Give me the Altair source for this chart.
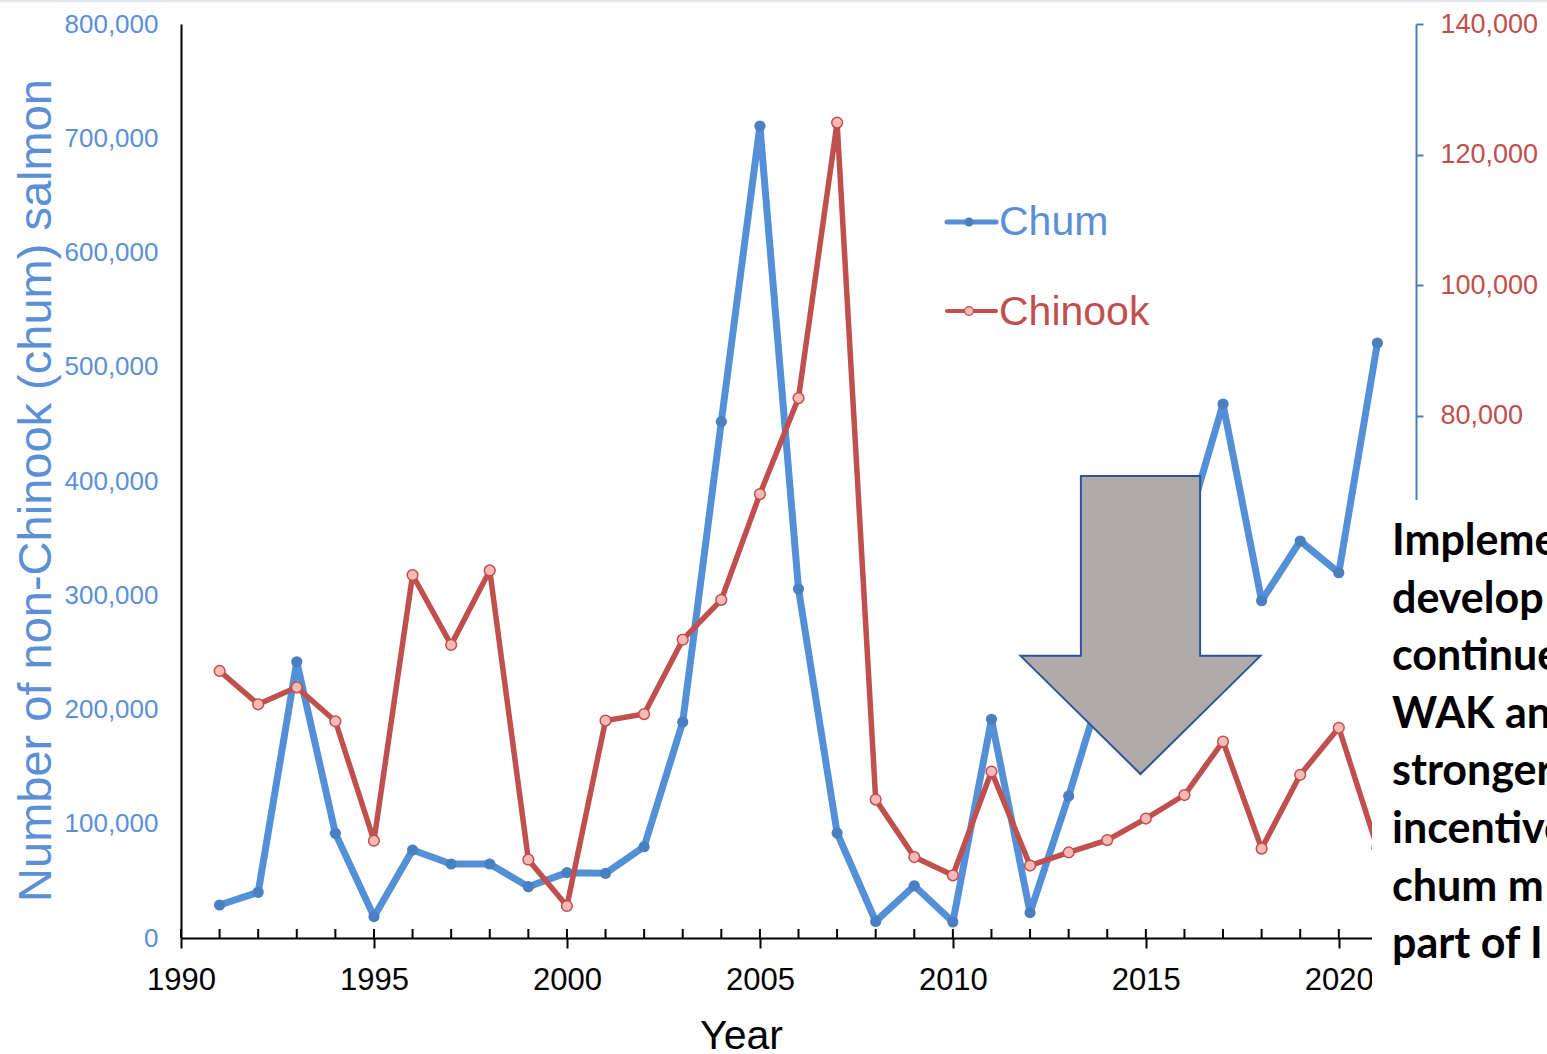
import altair as alt
import pandas as pd

# ---------------- data ----------------
years = [1991, 1992, 1993, 1994, 1995, 1996, 1997, 1998, 1999, 2000,
         2001, 2002, 2003, 2004, 2005, 2006, 2007, 2008, 2009, 2010,
         2011, 2012, 2013, 2014, 2015, 2016, 2017, 2018, 2019, 2020, 2021]
chum = [28900, 40000, 241800, 91600, 18700, 77000, 64800, 64800, 44900, 57200,
        56600, 79900, 189000, 452000, 710700, 305500, 91900, 14500, 45700, 14000,
        191400, 22200, 124300, 235000, 240000, 352000, 467400, 295200, 347500, 319700, 520800]
chinook = [40900, 35800, 38400, 33200, 14900, 55600, 44900, 56300, 12000, 4900,
           33300, 34300, 45700, 51800, 68000, 82700, 124900, 21200, 12400, 9600,
           25500, 11100, 13100, 15000, 18300, 21900, 30100, 13700, 25000, 32200, 13800]
series_names = ["Chum", "Chinook"]
x_major = [1990, 1995, 2000, 2005, 2010, 2015, 2020]
minor_years = [1990, 1991, 1992, 1993, 1994, 1995, 1996, 1997, 1998, 1999, 2000,
               2001, 2002, 2003, 2004, 2005, 2006, 2007, 2008, 2009, 2010,
               2011, 2012, 2013, 2014, 2015, 2016, 2017, 2018, 2019, 2020]
left_ticks = [0, 100000, 200000, 300000, 400000, 500000, 600000, 700000, 800000]
# only the right-axis ticks that the reference leaves visible (the rest sit under the note)
right_ticks = [80000, 100000, 120000, 140000]
note_lines = ["Impleme", "develop", "continue", "WAK an", "stronger",
              "incentive", "chum m", "part of I"]

df = pd.DataFrame({"year": years, "chum": chum, "chinook": chinook})
tick_df = pd.DataFrame({"year": minor_years})
one = pd.DataFrame({"k": [0]})

BLUE_LINE = "#5490D8"
BLUE_DOT = "#4A7FC1"
BLUE_TEXT = "#5B8FD6"
RED = "#C0504D"
PINK = "#F8B9B7"
FONT = "Liberation Sans"

x_scale = alt.Scale(domain=[1990, 2022], nice=False, zero=False)
x_axis = alt.Axis(values=x_major, format="d", labelFont=FONT, labelFontSize=31,
                  labelColor="black", labelPadding=17, labelFlush=False, tickSize=10,
                  tickWidth=2, tickColor="black", domainColor="black", domainWidth=2,
                  grid=False, title="Year", titleFont=FONT, titleFontSize=41,
                  titleFontWeight="normal", titleColor="black", titleX=560, titleY=110,
                  titleBaseline="alphabetic", titleAlign="center")
x_enc = alt.X("year:Q", scale=x_scale, axis=x_axis)

left_scale = alt.Scale(domain=[0, 800000], nice=False, zero=True)
right_scale = alt.Scale(domain=[0, 140000], nice=False, zero=True)

y_left_axis = alt.Axis(values=left_ticks, format=",d", orient="left", labelFont=FONT,
                       labelFontSize=26, labelColor=BLUE_TEXT, ticks=False, tickSize=0,
                       labelPadding=23, labelFlush=False, domainColor="black", domainWidth=2,
                       grid=False, title="Number of non-Chinook (chum) salmon", titleFont=FONT,
                       titleFontSize=47, titleColor=BLUE_TEXT, titleFontWeight="normal",
                       titleX=-131, titleY=466, titleAngle=270, titleBaseline="alphabetic",
                       titleAlign="center")
y_right_axis = alt.Axis(values=right_ticks, format=",d", orient="right", labelFont=FONT,
                        labelFontSize=27, labelColor=RED, tickSize=7, tickWidth=2,
                        tickColor="#4A7EBB", labelPadding=17, labelFlush=False,
                        domainColor="#4A7EBB", domainWidth=2, grid=False, title=None)

minor = alt.Chart(tick_df).mark_rule(color="black", strokeWidth=2).encode(
    x=x_enc, y=alt.value(905), y2=alt.value(914))

chum_line = alt.Chart(df).mark_line(color=BLUE_LINE, strokeWidth=7, strokeJoin="round").encode(
    x=x_enc, y=alt.Y("chum:Q", scale=left_scale, axis=y_left_axis))
chum_pts = alt.Chart(df).mark_circle(color=BLUE_DOT, size=125, opacity=1).encode(
    x=x_enc, y=alt.Y("chum:Q", scale=left_scale, axis=None))
chin_line = alt.Chart(df).mark_line(color=RED, strokeWidth=5.5, strokeJoin="round").encode(
    x=x_enc, y=alt.Y("chinook:Q", scale=right_scale, axis=y_right_axis))
chin_pts = alt.Chart(df).mark_point(shape="circle", filled=True, fill=PINK, stroke=RED,
                                    strokeWidth=1.5, size=115, opacity=1).encode(
    x=x_enc, y=alt.Y("chinook:Q", scale=right_scale, axis=None))

arrow_path = "M-0.4,-1 L0.4,-1 L0.4,0.207 L0.805,0.207 L0,1 L-0.805,0.207 L-0.4,0.207 Z"
arrow = alt.Chart(one).mark_point(shape=arrow_path, size=298 * 298, filled=True,
                                  fill="#AFABAB", stroke="#2F5597", strokeWidth=2,
                                  opacity=1).encode(x=alt.value(959.5), y=alt.value(601))

box = alt.Chart(one).mark_rect(fill="white").encode(
    x=alt.value(1191), x2=alt.value(1420), y=alt.value(476), y2=alt.value(1040))

note = alt.Chart(one).mark_text(text=note_lines, lineHeight=57.6, align="left",
                                baseline="alphabetic", font="Lato", fontWeight="bold",
                                fontSize=43, color="black").encode(
    x=alt.value(1211), y=alt.value(531))

top_border = alt.Chart(one).mark_rule(color="#E1E6EC", strokeWidth=2).encode(
    x=alt.value(-181), x2=alt.value(1366), y=alt.value(-23))

leg_chum_line = alt.Chart(one).mark_rule(color=BLUE_LINE, strokeWidth=5, strokeCap="round").encode(
    x=alt.value(766), x2=alt.value(815), y=alt.value(198))
leg_chum_dot = alt.Chart(one).mark_circle(color=BLUE_DOT, size=80, opacity=1).encode(
    x=alt.value(788), y=alt.value(198))
leg_chum_text = alt.Chart(one).mark_text(text=series_names[0], align="left", baseline="alphabetic",
                                         font=FONT, fontSize=41, color=BLUE_TEXT).encode(
    x=alt.value(818), y=alt.value(211))
leg_chin_line = alt.Chart(one).mark_rule(color=RED, strokeWidth=4, strokeCap="round").encode(
    x=alt.value(766), x2=alt.value(815), y=alt.value(287))
leg_chin_dot = alt.Chart(one).mark_point(shape="circle", filled=True, fill=PINK, stroke=RED,
                                         strokeWidth=1.2, size=80, opacity=1).encode(
    x=alt.value(788), y=alt.value(287))
leg_chin_text = alt.Chart(one).mark_text(text=series_names[1], align="left", baseline="alphabetic",
                                         font=FONT, fontSize=41, color=RED).encode(
    x=alt.value(818), y=alt.value(301))

chart = alt.layer(
    minor, chum_line, chum_pts, chin_line, chin_pts, arrow, box, note, top_border,
    leg_chum_line, leg_chum_dot, leg_chum_text, leg_chin_line, leg_chin_dot, leg_chin_text
).resolve_scale(y="independent").properties(
    width=1235, height=914,
    padding={"left": 181, "top": 24, "right": 131, "bottom": 116},
    autosize=alt.AutoSizeParams(type="none"),
    background="white",
).configure_view(stroke=None)

chart.save("out.html", embed_options={"renderer": "svg", "actions": False})
